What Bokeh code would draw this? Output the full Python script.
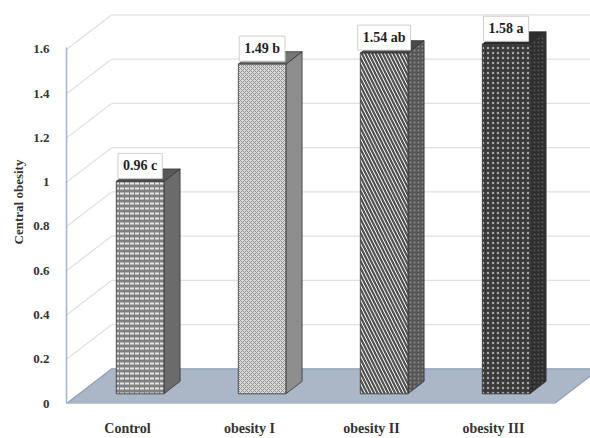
import numpy as np
from bokeh.plotting import figure
from bokeh.models import Range1d, FixedTicker, ColumnDataSource, Label
from bokeh.embed import file_html
from bokeh.resources import INLINE

# ---- data -------------------------------------------------------------
categories = ["Control", "obesity I", "obesity II", "obesity III"]
values = [0.96, 1.49, 1.54, 1.58]
letters = ["c", "b", "ab", "a"]
y_ticks = [0, 0.2, 0.4, 0.6, 0.8, 1, 1.2, 1.4, 1.6]
y_tick_labels = ["0", "0.2", "0.4", "0.6", "0.8", "1", "1.2", "1.4", "1.6"]

# ---- layout -----------------------------------------------------------
W, H = 590, 438
LEFT, BOTTOM = 66, 30
PX_X = 122.0      # pixels per category band
PX_Y = 224.0      # pixels per unit of the value axis
frame_w = W - LEFT
frame_h = H - BOTTOM

# oblique depth of the 3-D box, in data units
DX = 45 / PX_X
DY = 35 / PX_Y
FRONT, BACK = 0.28, 0.64   # depth span of each column (fraction of box depth)
BAR_W = 0.39

FONT = "Liberation Serif"
n = len(categories)
x_end = frame_w / PX_X

p = figure(width=W, height=H,
           x_range=Range1d(0, x_end), y_range=Range1d(0, frame_h / PX_Y),
           output_backend="svg", toolbar_location=None,
           min_border_left=LEFT, min_border_bottom=BOTTOM,
           min_border_top=0, min_border_right=0)
p.outline_line_color = None
p.xgrid.grid_line_color = None
p.ygrid.grid_line_color = None
p.background_fill_color = "white"

# back-wall gridlines and side-wall diagonals
p.multi_line(xs=[[DX, x_end + 1] for v in y_ticks],
             ys=[[v + DY, v + DY] for v in y_ticks],
             line_color="#e0e0e0", line_width=1.2)
p.multi_line(xs=[[0, DX] for v in y_ticks[1:]],
             ys=[[v, v + DY] for v in y_ticks[1:]],
             line_color="#e0e0e0", line_width=1.2)

# floor
p.patch(x=[0, n, n + DX, DX], y=[0, 0, DY, DY],
        fill_color="#a9b7c6", line_color="#8da1b5", line_width=1.2)

# ---- columns ------------------------------------------------------------
front_fill = ["#808080", "#dcdcdc", "#ffffff", "#3a3a3a"]
front_hatch = ["horizontal_dash", "diagonal_cross", "left_diagonal_line", "dot"]
front_hatch_color = ["#e8e8e8", "#8c8c8c", "#505050", "#a8a8a8"]
front_hatch_weight = [2.0, 1.0, 2.2, 1.5]
front_hatch_scale = [5, 4, 7, 5]
side_fill = ["#6b6b6b", "#8e8e8e", "#575757", "#2e2e2e"]
side_hatch = ["blank", "blank", "dot", "dot"]
side_hatch_color = ["#6b6b6b", "#8e8e8e", "#8a8a8a", "#555555"]
top_fill = ["#585858", "#767676", "#4a4a4a", "#2c2c2c"]

d = BACK - FRONT
bx, by = d * DX, d * DY
front, side, top = [], [], []
centers = []
for i, v in enumerate(values):
    cx = i + 0.5
    x0 = cx - BAR_W / 2 + FRONT * DX
    x1 = x0 + BAR_W
    y0 = FRONT * DY
    y1 = v + FRONT * DY
    centers.append(((x0 + x1) / 2, y1))
    front.append(([x0, x1, x1, x0], [y0, y0, y1, y1]))
    side.append(([x1, x1 + bx, x1 + bx, x1], [y0, y0 + by, y1 + by, y1]))
    top.append(([x0, x1, x1 + bx, x0 + bx], [y1, y1, y1 + by, y1 + by]))

side_src = ColumnDataSource(dict(xs=[s[0] for s in side], ys=[s[1] for s in side],
                                 fill=side_fill, hatch=side_hatch, hc=side_hatch_color))
p.patches("xs", "ys", source=side_src, fill_color="fill", hatch_pattern="hatch",
          hatch_color="hc", hatch_scale=4, hatch_weight=1.2,
          line_color="#333333", line_width=0.8)

top_src = ColumnDataSource(dict(xs=[t[0] for t in top], ys=[t[1] for t in top], fill=top_fill))
p.patches("xs", "ys", source=top_src, fill_color="fill",
          line_color="#333333", line_width=0.8)

front_src = ColumnDataSource(dict(xs=[f[0] for f in front], ys=[f[1] for f in front],
                                  fill=front_fill, hatch=front_hatch,
                                  hc=front_hatch_color, hw=front_hatch_weight,
                                  hs=front_hatch_scale))
p.patches("xs", "ys", source=front_src, fill_color="fill", hatch_pattern="hatch",
          hatch_color="hc", hatch_weight="hw", hatch_scale="hs",
          line_color="#333333", line_width=0.8)

# value labels
for (lx, ly), v, letter in zip(centers, values, letters):
    p.add_layout(Label(x=lx, y=ly, text=f"{v:.2f} {letter}",
                       text_align="center", text_baseline="bottom", y_offset=3,
                       text_font=FONT, text_font_style="bold", text_font_size="14px",
                       text_color="#222222", background_fill_color="white",
                       border_line_color="#cfcfcf", border_line_width=1, padding=5))

# ---- axes ---------------------------------------------------------------
ya = p.yaxis[0]
ya.ticker = FixedTicker(ticks=y_ticks)
ya.major_label_overrides = dict(zip(y_ticks, y_tick_labels))
ya.bounds = (0, 1.61)
ya.axis_line_color = "#9fb6cc"
ya.axis_line_width = 1.5
ya.major_tick_line_color = None
ya.minor_tick_line_color = None
ya.major_label_standoff = 11
ya.major_label_text_font = FONT
ya.major_label_text_font_style = "bold"
ya.major_label_text_font_size = "13px"
ya.major_label_text_color = "#333333"
ya.axis_label = "Central obesity"
ya.axis_label_text_font = FONT
ya.axis_label_text_font_style = "bold"
ya.axis_label_text_font_size = "13px"
ya.axis_label_text_color = "#333333"
ya.axis_label_standoff = 4

xa = p.xaxis[0]
xticks = [i + 0.5 for i in range(n)]
xa.ticker = FixedTicker(ticks=xticks)
xa.major_label_overrides = dict(zip(xticks, categories))
xa.axis_line_color = None
xa.major_tick_line_color = None
xa.minor_tick_line_color = None
xa.major_label_standoff = 11
xa.major_label_text_font = FONT
xa.major_label_text_font_style = "bold"
xa.major_label_text_font_size = "14px"
xa.major_label_text_color = "#333333"

open("out.html", "w").write(file_html(p, INLINE))
